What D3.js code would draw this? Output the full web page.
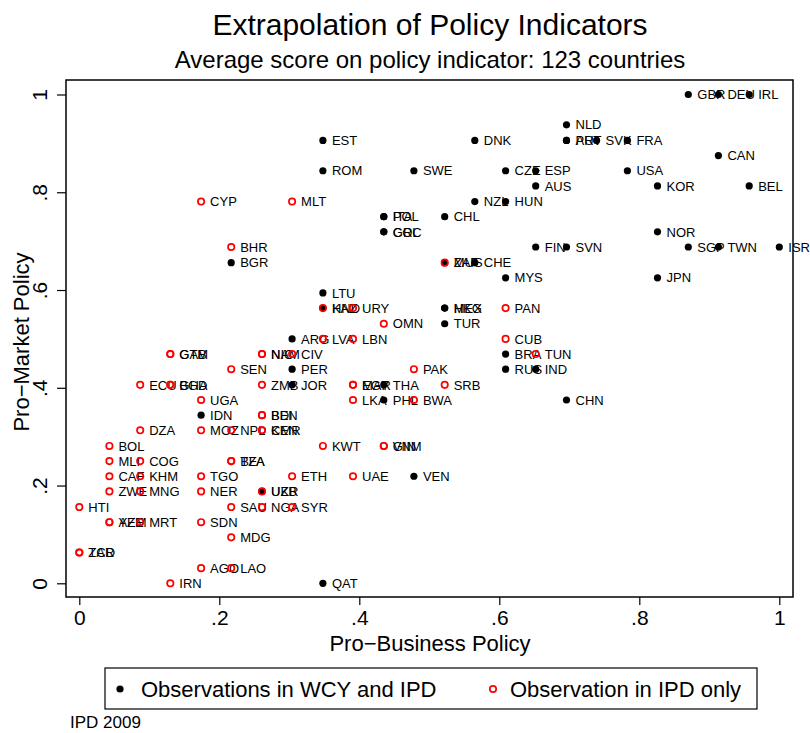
<!DOCTYPE html>
<html>

<head>
    <meta charset="utf-8" />
    <title>policy indicators</title>
</head>

<script src="https://d3js.org/d3.v7.min.js"></script>

<style>
    body {
        margin: 0;
        background: #ffffff;
    }

    svg {
        font-family: "Liberation Sans", Arial, sans-serif;
    }

    circle.wcy {
        fill: #000000;
    }

    circle.ipd {
        fill: none;
        stroke: #ff0000;
        stroke-width: 1.7px;
    }
</style>

<body>
    <svg width="810" height="733"></svg>
</body>

<script>
    // countries in both WCY and IPD (black dots)
    var wcyCodes = ["GBR", "DEU", "IRL", "NLD", "AUT", "PRT", "SVK", "FRA", "CAN", "USA",
        "ESP", "CZE", "AUS", "KOR", "BEL", "NZL", "HUN", "NOR", "FIN", "SVN",
        "SGP", "TWN", "ISR", "JPN", "CHN", "DNK", "EST", "ROM", "SWE", "POL",
        "ITA", "GRC", "COL", "CHL", "BGR", "ZAF", "CHE", "MYS", "LTU", "KAZ",
        "MEX", "HKG", "TUR", "ARG", "BRA", "RUS", "IND", "PER", "JOR", "THA",
        "PHL", "IDN", "VEN", "UKR", "QAT"];
    var wcyBusiness = [0.870, 0.913, 0.957, 0.696, 0.696, 0.696, 0.739, 0.783, 0.913, 0.783,
        0.652, 0.609, 0.652, 0.826, 0.957, 0.565, 0.609, 0.826, 0.652, 0.696,
        0.870, 0.913, 1.000, 0.826, 0.696, 0.565, 0.348, 0.348, 0.478, 0.435,
        0.435, 0.435, 0.435, 0.522, 0.217, 0.522, 0.565, 0.609, 0.348, 0.348,
        0.522, 0.522, 0.522, 0.304, 0.609, 0.609, 0.652, 0.304, 0.304, 0.435,
        0.435, 0.174, 0.478, 0.261, 0.348];
    var wcyMarket = [1.000, 1.000, 1.000, 0.938, 0.906, 0.906, 0.906, 0.906, 0.875, 0.844,
        0.844, 0.844, 0.813, 0.813, 0.813, 0.781, 0.781, 0.719, 0.688, 0.688,
        0.688, 0.688, 0.688, 0.625, 0.375, 0.906, 0.906, 0.844, 0.844, 0.750,
        0.750, 0.719, 0.719, 0.750, 0.656, 0.656, 0.656, 0.625, 0.594, 0.563,
        0.563, 0.563, 0.531, 0.500, 0.469, 0.438, 0.438, 0.438, 0.406, 0.406,
        0.375, 0.344, 0.219, 0.188, 0.000];

    // countries in IPD only (red circles)
    var ipdCodes = ["CYP", "MLT", "BHR", "MUS", "HND", "URY", "PAN", "OMN", "LVA", "LBN",
        "CUB", "TUN", "GAB", "GTM", "NAM", "NIC", "CIV", "SEN", "PAK", "ECU",
        "BGD", "GHA", "ZMB", "EGY", "MAR", "SRB", "LKA", "BWA", "UGA", "BEN",
        "BDI", "DZA", "MOZ", "NPL", "KEN", "CMR", "BOL", "KWT", "GIN", "VNM",
        "MLI", "COG", "BFA", "TZA", "CAF", "KHM", "TGO", "ETH", "UAE", "ZWE",
        "MNG", "NER", "UZB", "HTI", "SAU", "NGA", "SYR", "YEM", "AZE", "MRT",
        "SDN", "MDG", "ZAR", "TCD", "AGO", "LAO", "IRN"];
    var ipdBusiness = [0.174, 0.304, 0.217, 0.522, 0.348, 0.391, 0.609, 0.435, 0.348, 0.391,
        0.609, 0.652, 0.130, 0.130, 0.261, 0.261, 0.304, 0.217, 0.478, 0.087,
        0.130, 0.130, 0.261, 0.391, 0.391, 0.522, 0.391, 0.478, 0.174, 0.261,
        0.261, 0.087, 0.174, 0.217, 0.261, 0.261, 0.043, 0.348, 0.435, 0.435,
        0.043, 0.087, 0.217, 0.217, 0.043, 0.087, 0.174, 0.304, 0.391, 0.043,
        0.087, 0.174, 0.261, 0.000, 0.217, 0.261, 0.304, 0.043, 0.043, 0.087,
        0.174, 0.217, 0.000, 0.000, 0.174, 0.217, 0.130];
    var ipdMarket = [0.781, 0.781, 0.688, 0.656, 0.563, 0.563, 0.563, 0.531, 0.500, 0.500,
        0.500, 0.469, 0.469, 0.469, 0.469, 0.469, 0.469, 0.438, 0.438, 0.406,
        0.406, 0.406, 0.406, 0.406, 0.406, 0.406, 0.375, 0.375, 0.375, 0.344,
        0.344, 0.313, 0.313, 0.313, 0.313, 0.313, 0.281, 0.281, 0.281, 0.281,
        0.250, 0.250, 0.250, 0.250, 0.219, 0.219, 0.219, 0.219, 0.219, 0.188,
        0.188, 0.188, 0.188, 0.156, 0.156, 0.156, 0.156, 0.125, 0.125, 0.125,
        0.125, 0.094, 0.063, 0.063, 0.031, 0.031, 0.000];

    var tickValues = [0, 0.2, 0.4, 0.6, 0.8, 1];
    var tickLabels = ["0", ".2", ".4", ".6", ".8", "1"];

    var svg = d3.select('svg');

    // plot frame
    var frame = { left: 66, top: 80, right: 793, bottom: 597 };

    var x = d3.scaleLinear().domain([0, 1]).range([79.3, 779.3]);
    var y = d3.scaleLinear().domain([0, 1]).range([583.3, 94.5]);

    svg.append('text')
        .attr('x', 430).attr('y', 35)
        .attr('text-anchor', 'middle')
        .style('font-size', '30px')
        .text('Extrapolation of Policy Indicators');

    svg.append('text')
        .attr('x', 430).attr('y', 68)
        .attr('text-anchor', 'middle')
        .style('font-size', '24px')
        .text('Average score on policy indicator: 123 countries');

    // axes
    var fmt = function(d) { return tickLabels[tickValues.indexOf(d)]; };

    var xAxis = svg.append('g')
        .attr('transform', 'translate(0,' + frame.bottom + ')')
        .call(d3.axisBottom(x).tickValues(tickValues).tickFormat(fmt).tickSize(8).tickPadding(5));
    xAxis.select('.domain').remove();
    xAxis.selectAll('text').style('font-size', '21px').attr('fill', '#000');
    xAxis.selectAll('line').attr('stroke', '#000').attr('stroke-width', 1.2);

    var yAxis = svg.append('g')
        .attr('transform', 'translate(' + frame.left + ',0)')
        .call(d3.axisLeft(y).tickValues(tickValues).tickFormat(fmt).tickSize(9));
    yAxis.select('.domain').remove();
    yAxis.selectAll('line').attr('stroke', '#000').attr('stroke-width', 1.2);
    yAxis.selectAll('text')
        .style('font-size', '21px')
        .attr('fill', '#000')
        .attr('text-anchor', 'middle')
        .attr('dy', null)
        .attr('x', null)
        .attr('transform', 'translate(-19,0) rotate(-90)');

    svg.append('text')
        .attr('x', 430).attr('y', 651)
        .attr('text-anchor', 'middle')
        .style('font-size', '22px')
        .text('Pro\u2212Business Policy');

    svg.append('text')
        .attr('transform', 'translate(29,342) rotate(-90)')
        .attr('text-anchor', 'middle')
        .style('font-size', '22px')
        .text('Pro\u2212Market Policy');

    // series
    function drawSeries(codes, xs, ys, cls, r) {
        var g = svg.append('g');
        var pts = codes.map(function(c, i) { return { code: c, bx: xs[i], my: ys[i] }; });
        var grp = g.selectAll('g').data(pts).enter().append('g')
            .attr('transform', function(d) { return 'translate(' + x(d.bx) + ',' + y(d.my) + ')'; });
        grp.append('circle').attr('class', cls).attr('r', r);
        grp.append('text')
            .attr('x', 9)
            .attr('dy', '0.36em')
            .style('font-size', '13px')
            .text(function(d) { return d.code; });
    }

    drawSeries(wcyCodes, wcyBusiness, wcyMarket, 'wcy', 3.6);
    drawSeries(ipdCodes, ipdBusiness, ipdMarket, 'ipd', 3.2);

    svg.append('rect')
        .attr('x', frame.left).attr('y', frame.top)
        .attr('width', frame.right - frame.left)
        .attr('height', frame.bottom - frame.top)
        .attr('fill', 'none')
        .attr('stroke', '#000')
        .attr('stroke-width', 1.5);

    // legend
    var legend = svg.append('g');
    legend.append('rect')
        .attr('x', 105).attr('y', 668).attr('width', 652).attr('height', 41)
        .attr('fill', 'none').attr('stroke', '#000').attr('stroke-width', 1.2);
    legend.append('circle').attr('class', 'wcy').attr('cx', 120).attr('cy', 689).attr('r', 3.6);
    legend.append('text').attr('x', 141).attr('y', 697).style('font-size', '22px')
        .text('Observations in WCY and IPD');
    legend.append('circle').attr('class', 'ipd').attr('cx', 493).attr('cy', 689).attr('r', 3.2);
    legend.append('text').attr('x', 510).attr('y', 697).style('font-size', '22px')
        .text('Observation in IPD only');

    svg.append('text')
        .attr('x', 70).attr('y', 728)
        .style('font-size', '17px')
        .text('IPD 2009');
</script>

</html>
